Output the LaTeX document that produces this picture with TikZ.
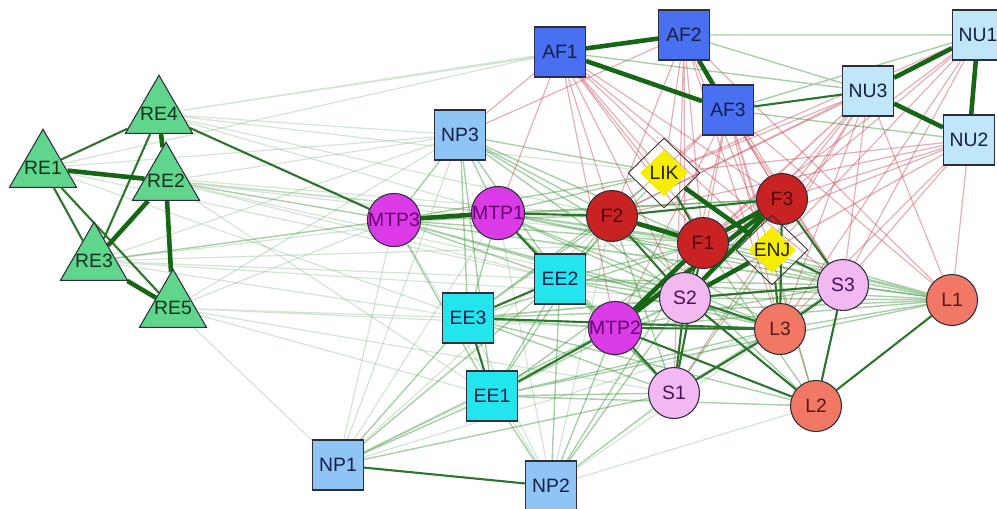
\documentclass[tikz,border=0pt]{standalone}
\usepackage{fontspec}
\setmainfont{Liberation Sans}
\usetikzlibrary{shapes.geometric, backgrounds}
\usepackage{xcolor}
\definecolor{recol}{RGB}{96, 214, 140}
\definecolor{afcol}{RGB}{72, 112, 240}
\definecolor{npcol}{RGB}{142, 197, 245}
\definecolor{nucol}{RGB}{192, 230, 250}
\definecolor{eecol}{RGB}{34, 229, 238}
\definecolor{mtpcol}{RGB}{218, 59, 230}
\definecolor{fcol}{RGB}{200, 34, 34}
\definecolor{scol}{RGB}{242, 184, 242}
\definecolor{lcol}{RGB}{240, 120, 100}
\definecolor{likcol}{RGB}{245, 238, 0}
\definecolor{outline}{RGB}{45, 45, 60}
\definecolor{tiedark}{RGB}{22, 102, 22}
\definecolor{tiegreen}{RGB}{60, 150, 60}
\definecolor{tiepale}{RGB}{150, 190, 150}
\definecolor{negred}{RGB}{200, 80, 95}
\tikzstyle{retri}   = [regular polygon, regular polygon sides=3, minimum size=1.55cm,
                       inner sep=0pt, draw=outline, line width=0.6pt, fill=recol,
                       text={rgb,255:red,20;green,50;blue,30}]
\tikzstyle{sqnode}  = [rectangle, minimum width=1.02cm, minimum height=1cm, inner sep=0pt,
                       draw=outline, line width=0.6pt, text={rgb,255:red,20;green,30;blue,70}]
\tikzstyle{afbox}   = [sqnode, fill=afcol]
\tikzstyle{npbox}   = [sqnode, fill=npcol]
\tikzstyle{nubox}   = [sqnode, fill=nucol]
\tikzstyle{eebox}   = [sqnode, fill=eecol]
\tikzstyle{rnode}   = [circle, minimum size=1.02cm, inner sep=0pt, draw=outline, line width=0.6pt]
\tikzstyle{mtpnode} = [rnode, fill=mtpcol, text={rgb,255:red,100;green,0;blue,110}]
\tikzstyle{fnode}   = [rnode, fill=fcol, text={rgb,255:red,80;green,8;blue,8}]
\tikzstyle{snode}   = [rnode, fill=scol, text={rgb,255:red,70;green,20;blue,90}]
\tikzstyle{lnode}   = [rnode, fill=lcol, text={rgb,255:red,90;green,25;blue,25}]
\tikzstyle{dia}     = [diamond, minimum width=1.44cm, minimum height=1.4cm, inner sep=0pt,
                       draw=black!80, line width=0.5pt, text={rgb,255:red,40;green,30;blue,10},
                       path picture={\fill[likcol, shift={(path picture bounding box.center)}]
                         (-0.48cm,0) -- (0,0.46cm) -- (0.48cm,0) -- (0,-0.46cm) -- cycle;}]
\tikzstyle{strongtie} = [line width=2.6pt, draw=tiedark]
\tikzstyle{midtie}    = [line width=1.2pt, draw=tiedark!90]
\tikzstyle{weaktie}   = [line width=0.8pt, draw=tiegreen, opacity=0.45]
\tikzstyle{faintline} = [line width=0.7pt, draw=tiepale, opacity=0.4]
\tikzstyle{negline}   = [line width=0.7pt, draw=negred, opacity=0.45]
\begin{document}
\begin{tikzpicture}[x=0.02cm, y=-0.02cm, every node/.style={font=\fontsize{11}{13}\selectfont}]
  \useasboundingbox (0,0) rectangle (997,508);

  % RE cluster
  \node (RE1) [retri] at (43,168)  {\makebox[0pt]{RE1}};
  \node (RE4) [retri] at (159,114) {\makebox[0pt]{RE4}};
  \node (RE2) [retri] at (166,181) {\makebox[0pt]{RE2}};
  \node (RE3) [retri] at (94,261)  {\makebox[0pt]{RE3}};
  \node (RE5) [retri] at (173,308) {\makebox[0pt]{RE5}};

  % squares
  \node (AF1) [afbox] at (560,52)  {AF1};
  \node (AF2) [afbox] at (684,35)  {AF2};
  \node (AF3) [afbox] at (728,110) {AF3};
  \node (NU1) [nubox] at (978,35)  {NU1};
  \node (NU3) [nubox] at (868,91)  {NU3};
  \node (NU2) [nubox] at (969,140) {NU2};
  \node (NP3) [npbox] at (460,135) {NP3};
  \node (NP1) [npbox] at (338,465) {NP1};
  \node (NP2) [npbox] at (551,486) {NP2};
  \node (EE2) [eebox] at (560,279) {EE2};
  \node (EE3) [eebox] at (468,318) {EE3};
  \node (EE1) [eebox] at (492,396) {EE1};

  % circles and diamonds
  \node (MTP3) [mtpnode] at (394,220) {MTP3};
  \node (MTP1) [mtpnode] at (498,213) {MTP1};
  \node (MTP2) [mtpnode] at (615,328) {MTP2};
  \node (F2)   [fnode]   at (612,216) {F2};
  \node (F1)   [fnode]   at (703,243) {F1};
  \node (F3)   [fnode]   at (782,199) {F3};
  \node (S2)   [snode]   at (685,298) {S2};
  \node (S3)   [snode]   at (843,285) {S3};
  \node (S1)   [snode]   at (674,393) {S1};
  \node (L1)   [lnode]   at (952,300) {L1};
  \node (L3)   [lnode]   at (780,329) {L3};
  \node (L2)   [lnode]   at (816,406) {L2};
  \node (LIK)  [dia]     at (664,173) {LIK};
  \node (ENJ)  [dia]     at (772,250) {ENJ};

  \begin{scope}[on background layer]
    % faint ties from the RE and NP groups
    \draw [faintline] (RE4) -- (AF1) (RE4) -- (AF2) (RE4) -- (NP3) (RE4) -- (LIK) (RE4) -- (F2) (RE4) -- (MTP1);
    \draw [faintline] (RE1) -- (NP3) (RE1) -- (MTP1) (RE1) -- (AF1) (RE1) -- (F2) (RE1) -- (EE2) (RE1) -- (EE3);
    \draw [faintline] (RE2) -- (MTP1) (RE2) -- (F1) (RE2) -- (EE2) (RE2) -- (S2) (RE2) -- (NP3) (RE2) -- (EE1);
    \draw [faintline] (RE3) -- (MTP1) (RE3) -- (EE2) (RE3) -- (EE3) (RE3) -- (S2) (RE3) -- (F1) (RE3) -- (NP3);
    \draw [faintline] (RE5) -- (EE3) (RE5) -- (EE1) (RE5) -- (NP1) (RE5) -- (MTP2) (RE5) -- (S1) (RE5) -- (NP3) (RE5) -- (MTP3);
    \draw [faintline] (NP1) -- (MTP3) (NP1) -- (MTP1) (NP1) -- (NP3) (NP1) -- (L3) (NP1) -- (S2) (NP1) -- (F2);
    \draw [faintline] (NP2) -- (MTP3) (NP2) -- (MTP1) (NP2) -- (EE3) (NP2) -- (F2) (NP2) -- (L3) (NP2) -- (L2);

    % negative ties
    \draw [negline] (AF1) -- (NP3) (AF1) -- (LIK) (AF1) -- (F2) (AF1) -- (F1) (AF1) -- (F3) (AF1) -- (ENJ) (AF1) -- (S2) (AF1) -- (S3) (AF1) -- (L3) (AF1) -- (MTP2) (AF1) -- (MTP1);
    \draw [negline] (AF2) -- (NP3) (AF2) -- (LIK) (AF2) -- (F2) (AF2) -- (F1) (AF2) -- (F3) (AF2) -- (ENJ) (AF2) -- (S2) (AF2) -- (S3) (AF2) -- (L3) (AF2) -- (L1) (AF2) -- (S1);
    \draw [negline] (AF3) -- (LIK) (AF3) -- (F2) (AF3) -- (F1) (AF3) -- (F3) (AF3) -- (ENJ) (AF3) -- (S2) (AF3) -- (S3) (AF3) -- (L3) (AF3) -- (L1) (AF3) -- (L2) (AF3) -- (MTP2);
    \draw [negline] (NU3) -- (LIK) (NU3) -- (F2) (NU3) -- (F1) (NU3) -- (F3) (NU3) -- (ENJ) (NU3) -- (S2) (NU3) -- (S3) (NU3) -- (L3) (NU3) -- (L1) (NU3) -- (S1) (NU3) -- (MTP2);
    \draw [negline] (NU2) -- (LIK) (NU2) -- (F2) (NU2) -- (F1) (NU2) -- (F3) (NU2) -- (ENJ) (NU2) -- (S3) (NU2) -- (L3) (NU2) -- (L1) (NU2) -- (S2);
    \draw [negline] (NU1) -- (LIK) (NU1) -- (F1) (NU1) -- (F3) (NU1) -- (ENJ) (NU1) -- (S3) (NU1) -- (L3) (NU1) -- (F2);

    % weak positive ties
    \draw [weaktie] (AF2) -- (NU1) (AF2) -- (NU3) (AF3) -- (NU2) (AF1) -- (NU3) (AF3) -- (NU1);
    \draw [weaktie] (NP3) -- (MTP3) (NP3) -- (MTP1) (NP3) -- (EE2) (NP3) -- (EE3) (NP3) -- (EE1) (NP3) -- (F2) (NP3) -- (F1) (NP3) -- (S2) (NP3) -- (L3) (NP3) -- (LIK);
    \draw [weaktie] (MTP3) -- (F2) (MTP3) -- (F1) (MTP3) -- (F3) (MTP3) -- (S2) (MTP3) -- (S3) (MTP3) -- (L3) (MTP3) -- (L1) (MTP3) -- (LIK) (MTP3) -- (EE2) (MTP3) -- (EE1) (MTP3) -- (RE4) (MTP3) -- (RE2) (MTP3) -- (RE3);
    \draw [weaktie] (MTP1) -- (F1) (MTP1) -- (F3) (MTP1) -- (S2) (MTP1) -- (S3) (MTP1) -- (L3) (MTP1) -- (L1) (MTP1) -- (LIK) (MTP1) -- (ENJ) (MTP1) -- (MTP2) (MTP1) -- (S1) (MTP1) -- (EE3);
    \draw [weaktie] (EE2) -- (F1) (EE2) -- (F2) (EE2) -- (S2) (EE2) -- (S3) (EE2) -- (L1) (EE2) -- (L3) (EE2) -- (LIK) (EE2) -- (MTP2) (EE2) -- (S1) (EE2) -- (EE1);
    \draw [weaktie] (EE3) -- (F1) (EE3) -- (F2) (EE3) -- (S2) (EE3) -- (S3) (EE3) -- (L1) (EE3) -- (L2) (EE3) -- (MTP2) (EE3) -- (S1) (EE3) -- (LIK);
    \draw [weaktie] (EE1) -- (S1) (EE1) -- (S2) (EE1) -- (F1) (EE1) -- (L1) (EE1) -- (L2) (EE1) -- (L3) (EE1) -- (F2);
    \draw [weaktie] (NP2) -- (EE1) (NP2) -- (EE2) (NP2) -- (MTP2) (NP2) -- (S1) (NP2) -- (S2) (NP2) -- (F1);
    \draw [weaktie] (NP1) -- (EE1) (NP1) -- (EE3) (NP1) -- (EE2) (NP1) -- (MTP2) (NP1) -- (S1);
    \draw [weaktie] (L1) -- (S2) (L1) -- (S3) (L1) -- (L3) (L1) -- (F1) (L1) -- (MTP2) (L1) -- (F2) (L1) -- (ENJ);
    \draw [weaktie] (L2) -- (F1) (L2) -- (F2) (L2) -- (S3) (L2) -- (ENJ) (S3) -- (MTP2) (S3) -- (S1) (S3) -- (F1) (S1) -- (F2) (S1) -- (ENJ);

    % medium positive ties
    \draw [midtie] (RE1) -- (RE4) (RE1) -- (RE3) (RE4) -- (RE3) (RE1) -- (RE5) (RE4) -- (MTP3);
    \draw [midtie] (AF3) -- (NU3) (MTP1) -- (EE2) (EE2) -- (EE3) (EE3) -- (EE1) (EE1) -- (MTP2) (NP1) -- (NP2);
    \draw [midtie] (MTP2) -- (S1) (S1) -- (S2) (S1) -- (L3) (S2) -- (L3) (MTP2) -- (L3) (MTP2) -- (L2) (S2) -- (L2) (L1) -- (L2) (S3) -- (L2);
    \draw [midtie] (L3) -- (ENJ) (F1) -- (LIK) (F1) -- (S2) (F3) -- (S3) (ENJ) -- (S3) (S3) -- (L3) (F2) -- (F3) (F2) -- (S2) (F3) -- (L3) (S3) -- (S2) (MTP1) -- (F2) (S1) -- (F1) (EE3) -- (L3);

    % strong positive ties
    \draw [strongtie] (RE1) -- (RE2) (RE3) -- (RE5) (RE2) -- (RE4) (RE2) -- (RE5) (RE2) -- (RE3);
    \draw [strongtie] (AF1) -- (AF2) (AF1) -- (AF3) (AF2) -- (AF3) (NU1) -- (NU3) (NU3) -- (NU2) (NU1) -- (NU2);
    \draw [strongtie] (MTP3) -- (MTP1) (F2) -- (F1) (F1) -- (F3) (LIK) -- (ENJ) (S2) -- (F3) (MTP2) -- (F3) (S2) -- (ENJ) (MTP2) -- (F1);
  \end{scope}
\end{tikzpicture}
\end{document}
